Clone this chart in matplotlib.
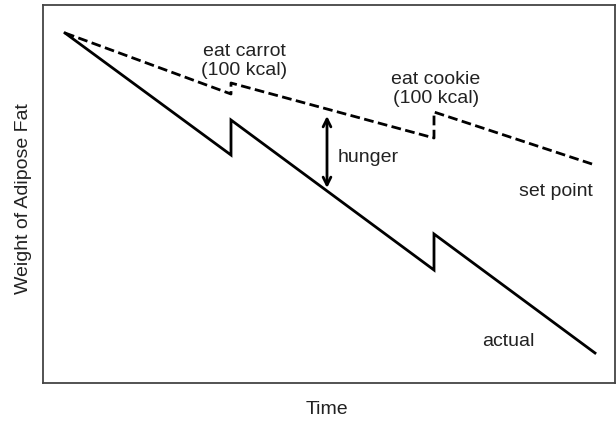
import matplotlib
matplotlib.use("Agg")
import matplotlib.pyplot as plt

plt.rcParams['font.family'] = ['Liberation Sans', 'DejaVu Sans']

# values (arbitrary units)
time = [22, 188, 188, 391, 391, 552]
actual = [350, 228, 263, 113, 149, 30]
set_point = [350, 289, 300, 245, 271, 218]
hunger_x = 284
hunger_span = (267, 195)

fig = plt.figure(figsize=(6.16, 4.24), dpi=100)
ax = fig.add_axes([43 / 616, 41 / 424, 572 / 616, 378 / 424])

ax.plot(time, actual, color='black', lw=2, solid_joinstyle='miter')
ax.plot(time, set_point, color='black', lw=2, linestyle=(0, (3.5, 1.6)))

ax.annotate('', xy=(hunger_x, hunger_span[0]), xytext=(hunger_x, hunger_span[1]),
            arrowprops=dict(arrowstyle='<->', color='black', lw=2,
                            mutation_scale=14, shrinkA=0, shrinkB=0))

fs = 14
tc = '#222222'
ax.text(201, 322, 'eat carrot\n(100 kcal)', ha='center', va='center',
        fontsize=fs, color=tc, linespacing=1.1)
ax.text(393, 294, 'eat cookie\n(100 kcal)', ha='center', va='center',
        fontsize=fs, color=tc, linespacing=1.1)
ax.text(295, 226, 'hunger', ha='left', va='center', fontsize=fs, color=tc)
ax.text(476, 191, 'set point', ha='left', va='center', fontsize=fs, color=tc)
ax.text(439, 41, 'actual', ha='left', va='center', fontsize=fs, color=tc)

ax.set_xlim(0, 572)
ax.set_ylim(0, 378)
ax.set_xticks([])
ax.set_yticks([])
for s in ax.spines.values():
    s.set_color('#444444')
    s.set_linewidth(1.3)

fig.text(327 / 616, 1 - 409 / 424, 'Time', ha='center', va='center',
         fontsize=fs, color=tc)
fig.text(24 / 616, 1 - 199 / 424, 'Weight of Adipose Fat', ha='center',
         va='center', rotation=90, fontsize=fs, color=tc)

fig.savefig('out.png', dpi=100)
